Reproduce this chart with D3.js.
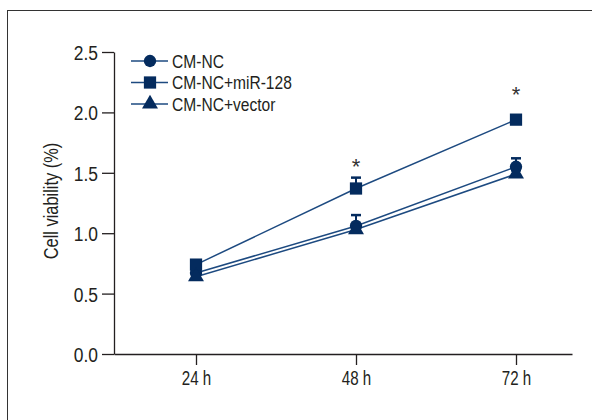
<!DOCTYPE html>
<html>
<head>
<meta charset="utf-8">
<script src="https://cdn.jsdelivr.net/npm/d3@7"></script>
<style>
  body { margin: 0; background: #fff; }
  svg { display: block; font-family: "Liberation Sans", sans-serif; }
</style>
</head>
<body>
<svg width="592" height="420"></svg>
<script>
// data
const hours = [24, 48, 72];
const hourLabels = ["24 h", "48 h", "72 h"];
const seriesNames = ["CM-NC", "CM-NC+miR-128", "CM-NC+vector"];
const cmNC = [0.67, 1.06, 1.55];
const cmNCErr = [0.03, 0.09, 0.07];
const cmMiR = [0.74, 1.37, 1.94];
const cmMiRErr = [0.03, 0.09, 0.03];
const cmVector = [0.64, 1.03, 1.49];
const cmVectorErr = [0.02, 0.04, 0.03];
const yTicks = [0.0, 0.5, 1.0, 1.5, 2.0, 2.5];
const starAt = [48, 72];

const navy = "#042b5e";
const lineCol = "#1d4a80";
const textCol = "#231f20";

let series = [
  {name: seriesNames[0], vals: cmNC, err: cmNCErr, shape: d3.symbolCircle, size: 120},
  {name: seriesNames[1], vals: cmMiR, err: cmMiRErr, shape: d3.symbolSquare, size: 150},
  {name: seriesNames[2], vals: cmVector, err: cmVectorErr, shape: d3.symbolTriangle, size: 110}
];

// no condensed font installed, so squeeze text horizontally
function narrow(sel, tx, ty, sx) {
  sel.attr("x", 0).attr("y", 0)
    .attr("transform", `translate(${tx},${ty}) scale(${sx},1)`);
}

let svg = d3.select("svg");

// outer frame
svg.append("rect")
  .attr("x", 7.5).attr("y", 10.5)
  .attr("width", 600).attr("height", 420)
  .attr("fill", "none").attr("stroke", "#333").attr("stroke-width", 1);

let x = d3.scaleLinear().domain([11.7, 80.4]).range([114, 572]);
let y = d3.scaleLinear().domain([0, 2.5]).range([354, 52]);

// axes
let yAxis = svg.append("g")
  .attr("transform", "translate(114,0)")
  .call(d3.axisLeft(y).tickValues(yTicks).tickFormat(d3.format(".1f")).tickSize(12).tickSizeOuter(0));
let xAxis = svg.append("g")
  .attr("transform", "translate(0,354)")
  .call(d3.axisBottom(x).tickValues(hours).tickFormat((d, i) => hourLabels[i]).tickSize(11).tickSizeOuter(0));

[yAxis, xAxis].forEach(a => {
  a.selectAll("path, line").attr("stroke", textCol).attr("stroke-width", 1.3);
  a.selectAll("text").attr("fill", textCol).style("font-size", "21px")
    .style("font-family", "Liberation Sans, sans-serif");
});
narrow(yAxis.selectAll("text").attr("dy", "0.36em"), -16, 0, 0.83);
narrow(xAxis.selectAll("text").attr("dy", "0.71em"), 0, 16, 0.72);

svg.append("text")
  .attr("transform", "translate(58,201) rotate(-90) scale(0.82,1)")
  .attr("text-anchor", "middle")
  .style("font-size", "20px")
  .attr("fill", textCol)
  .text("Cell viability (%)");

let line = d3.line().x((d, i) => x(hours[i])).y(d => y(d));

series.forEach(s => {
  svg.append("path")
    .attr("d", line(s.vals))
    .attr("fill", "none")
    .attr("stroke", lineCol)
    .attr("stroke-width", 1.5);
});

// error bars (upper only) and markers
series.forEach(s => {
  let g = svg.append("g");
  s.vals.forEach((v, i) => {
    let cx = x(hours[i]);
    g.append("line")
      .attr("x1", cx).attr("x2", cx)
      .attr("y1", y(v)).attr("y2", y(v + s.err[i]))
      .attr("stroke", navy).attr("stroke-width", 2);
    g.append("line")
      .attr("x1", cx - 5).attr("x2", cx + 5)
      .attr("y1", y(v + s.err[i])).attr("y2", y(v + s.err[i]))
      .attr("stroke", navy).attr("stroke-width", 2.5);
  });
  g.selectAll("path")
    .data(s.vals)
    .join("path")
    .attr("transform", (d, i) => `translate(${x(hours[i])},${y(d)})`)
    .attr("d", d3.symbol().type(s.shape).size(s.size))
    .attr("fill", navy);
});

// significance stars above miR-128
starAt.forEach(h => {
  let i = hours.indexOf(h);
  let top = cmMiR[i] + cmMiRErr[i];
  svg.append("text")
    .attr("x", x(h))
    .attr("y", y(top) - 4 - (h === 72 ? 10 : 0))
    .attr("text-anchor", "middle")
    .style("font-size", "22px")
    .attr("fill", "#333")
    .text("*");
});

// legend
let legend = svg.append("g");
series.forEach((s, i) => {
  let ly = 61 + i * 21.5;
  legend.append("line")
    .attr("x1", 131).attr("x2", 168)
    .attr("y1", ly).attr("y2", ly)
    .attr("stroke", lineCol).attr("stroke-width", 1.5);
  legend.append("path")
    .attr("transform", `translate(150,${ly})`)
    .attr("d", d3.symbol().type(s.shape).size(s.size))
    .attr("fill", navy);
  legend.append("text")
    .attr("transform", `translate(172,${ly}) scale(0.82,1)`)
    .attr("dy", "0.36em")
    .style("font-size", "19px")
    .attr("fill", textCol)
    .text(s.name);
});
</script>
</body>
</html>
